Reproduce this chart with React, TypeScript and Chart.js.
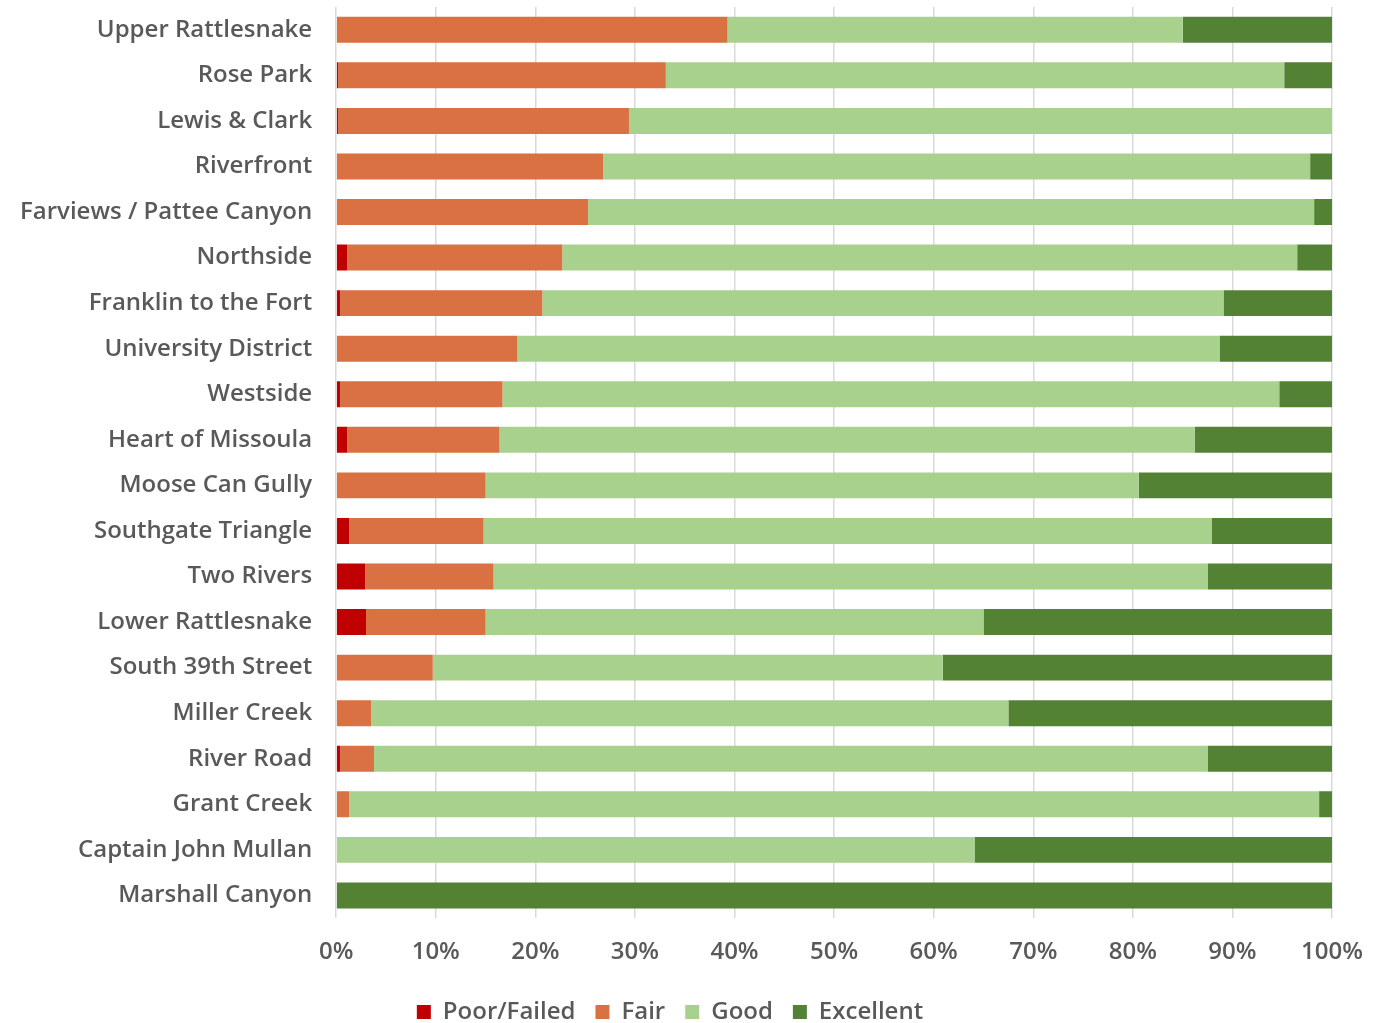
import React, { useEffect, useRef } from "react";
import { Chart, registerables } from "chart.js";

Chart.register(...registerables);

const categories = [
  "Upper Rattlesnake",
  "Rose Park",
  "Lewis & Clark",
  "Riverfront",
  "Farviews / Pattee Canyon",
  "Northside",
  "Franklin to the Fort",
  "University District",
  "Westside",
  "Heart of Missoula",
  "Moose Can Gully",
  "Southgate Triangle",
  "Two Rivers",
  "Lower Rattlesnake",
  "South 39th Street",
  "Miller Creek",
  "River Road",
  "Grant Creek",
  "Captain John Mullan",
  "Marshall Canyon",
];

const poorFailed = [0, 0.2, 0.2, 0, 0, 1.1, 0.4, 0, 0.4, 1.1, 0, 1.3, 2.9, 3.0, 0, 0, 0.4, 0, 0, 0];
const fair = [39.3, 32.9, 29.2, 26.8, 25.3, 21.6, 20.3, 18.2, 16.3, 15.3, 15.0, 13.5, 12.9, 12.0, 9.7, 3.5, 3.4, 1.3, 0, 0];
const good = [45.7, 62.1, 70.6, 71.0, 72.9, 73.8, 68.4, 70.5, 78.0, 69.8, 65.6, 73.1, 71.7, 50.0, 51.2, 64.0, 83.7, 97.4, 64.1, 0];
const excellent = [15.0, 4.8, 0, 2.2, 1.8, 3.5, 10.9, 11.3, 5.3, 13.8, 19.4, 12.1, 12.5, 35.0, 39.1, 32.5, 12.5, 1.3, 35.9, 100];

const seriesNames = ["Poor/Failed", "Fair", "Good", "Excellent"];
const seriesColors = ["#C00000", "#D97142", "#A9D18E", "#548235"];
const xTicks = [0, 10, 20, 30, 40, 50, 60, 70, 80, 90, 100];

export default function App() {
  const ref = useRef<HTMLCanvasElement | null>(null);

  useEffect(() => {
    if (!ref.current) return;
    const values = [poorFailed, fair, good, excellent];
    const fontFamily = "'Open Sans', 'Liberation Sans', Arial, sans-serif";
    const chart = new Chart(ref.current, {
      type: "bar",
      data: {
        labels: categories,
        datasets: values.map((v, i) => ({
          label: seriesNames[i],
          data: v,
          backgroundColor: seriesColors[i],
          borderWidth: 0,
          barPercentage: 0.57,
          categoryPercentage: 1,
        })),
      },
      options: {
        indexAxis: "y",
        animation: false,
        responsive: false,
        maintainAspectRatio: false,
        layout: { padding: { top: 7, right: 39, left: -4, bottom: -11 } },
        scales: {
          x: {
            stacked: true,
            min: 0,
            max: 100,
            afterBuildTicks: (axis: any) => {
              axis.ticks = xTicks.map((t) => ({ value: t }));
            },
            afterFit: (s: any) => {
              s.height -= 7;
            },
            ticks: {
              callback: (v: any) => v + "%",
              color: "#595959",
              font: { family: fontFamily, size: 24, weight: "600" },
              padding: 20,
              maxRotation: 0,
            },
            grid: { color: "#D9D9D9", lineWidth: 1.5, drawTicks: false },
            border: { display: false },
          },
          y: {
            stacked: true,
            afterFit: (s: any) => {
              s.paddingTop = 0;
              s.paddingBottom = 0;
            },
            ticks: {
              color: "#595959",
              font: { family: fontFamily, size: 24, weight: "600" },
              padding: 24,
              autoSkip: false,
            },
            grid: { display: false, drawTicks: false },
            border: { display: false },
          },
        },
        plugins: {
          legend: {
            position: "bottom",
            labels: {
              color: "#595959",
              font: { family: fontFamily, size: 24, weight: "600" },
              boxWidth: 14,
              boxHeight: 14,
              padding: 20,
            },
          },
          tooltip: { enabled: false },
        },
      },
    });
    return () => chart.destroy();
  }, []);

  return (
    <div style={{ position: "absolute", left: 0, top: 0, width: 1383, height: 1023, background: "#fff" }}>
      <canvas ref={ref} width={1383} height={1023} style={{ width: 1383, height: 1023 }} />
    </div>
  );
}
